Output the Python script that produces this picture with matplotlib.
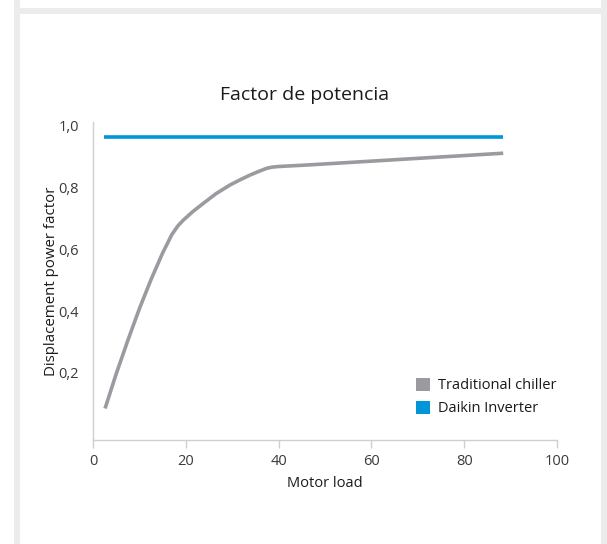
import matplotlib
matplotlib.use("Agg")
import matplotlib.pyplot as plt
from matplotlib.patches import Rectangle, Patch
from matplotlib.ticker import FuncFormatter

plt.rcParams['font.family'] = ['Open Sans', 'DejaVu Sans']

# Data
load_traditional = [2.6, 5.0, 7.5, 10.0, 12.5, 15.0, 17.0, 18.3, 19.5, 21.5, 23.8,
                    26.5, 29.5, 31.7, 33.8, 35.7, 37.4, 38.6, 40.0, 46.3, 88.4]
pf_traditional = [0.085, 0.197, 0.305, 0.408, 0.502, 0.588, 0.648, 0.676, 0.695, 0.722, 0.749,
                  0.780, 0.808, 0.825, 0.840, 0.852, 0.862, 0.866, 0.868, 0.873, 0.911]
load_inverter = [2.4, 88.4]
pf_inverter = [0.962, 0.962]

x_ticks = [0, 20, 40, 60, 80, 100]
y_ticks = [0.2, 0.4, 0.6, 0.8, 1.0]

title = "Factor de potencia"
x_label = "Motor load"
y_label = "Displacement power factor"
series_names = ["Traditional chiller", "Daikin Inverter"]

GRAY = "#9a9ba0"
BLUE = "#0096d8"
AXIS = "#cfcfcf"
FRAME = "#ececec"
TEXT = "#3a3a3a"

W, H = 607, 544
fig = plt.figure(figsize=(W / 100, H / 100), dpi=100)

# Page frame around the panel
def px_rect(x0, y0, x1, y1):
    fig.patches.append(Rectangle((x0 / W, 1 - y1 / H), (x1 - x0) / W, (y1 - y0) / H,
                                 transform=fig.transFigure, facecolor=FRAME,
                                 edgecolor="none", zorder=0))

px_rect(14, 0, 20, H)
px_rect(601, 0, 607, H)
px_rect(14, 8, 607, 14)

ax = fig.add_axes([93 / W, 1 - 440 / H, (557 - 93) / W, (440 - 121.7) / H])

ax.plot(load_traditional, pf_traditional, color=GRAY, lw=2.6,
        solid_joinstyle="round", solid_capstyle="butt")
ax.plot(load_inverter, pf_inverter, color=BLUE, lw=2.6, solid_capstyle="butt")

ax.set_xlim(0, 100)
ax.set_ylim(-0.017, 1.013)
ax.set_xticks(x_ticks)
ax.set_yticks(y_ticks)
comma = FuncFormatter(lambda v, p: f"{v:.1f}".replace(".", ","))
ax.yaxis.set_major_formatter(comma)

for s in ["top", "right"]:
    ax.spines[s].set_visible(False)
for s in ["left", "bottom"]:
    ax.spines[s].set_color(AXIS)
    ax.spines[s].set_linewidth(1.0)

ax.tick_params(axis="x", length=6, width=1.0, color=AXIS, labelsize=10.5,
               labelcolor=TEXT, pad=4)
ax.tick_params(axis="y", length=0, labelsize=10.5, labelcolor=TEXT, pad=10)

ax.set_xlabel(x_label, fontsize=10.5, color="#1a1a1a", labelpad=5)
ax.set_ylabel(y_label, fontsize=10.8, color="#1a1a1a", labelpad=0)
fig.text(305 / W, 1 - 95 / H, title, ha="center", va="center",
         fontsize=14, color="#1a1a1a")

handles = [Patch(facecolor=GRAY, edgecolor="none"),
           Patch(facecolor=BLUE, edgecolor="none")]
leg = ax.legend(handles, series_names, loc="upper left",
                bbox_to_anchor=((410 - 93) / (557 - 93), (440 - 372) / (440 - 121.7)),
                frameon=False, fontsize=10.5, handlelength=1.0, handleheight=1.0,
                handletextpad=0.5, labelspacing=0.5, borderaxespad=0)
for t in leg.get_texts():
    t.set_color("#1a1a1a")

fig.savefig("out.png", dpi=100)
